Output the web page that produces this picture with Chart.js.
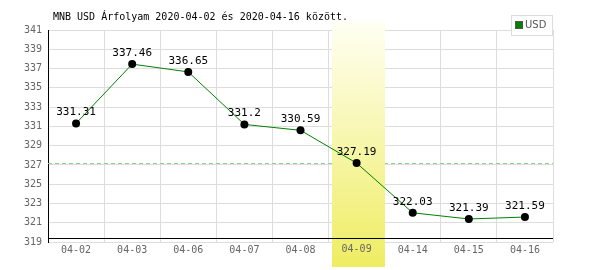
<!DOCTYPE html>
<html>
<head>
<meta charset="utf-8">
<script src="https://cdn.jsdelivr.net/npm/chart.js@4"></script>
<style>
    html, body { margin: 0; padding: 0; background: #ffffff; }
    #wrap { position: relative; width: 600px; height: 270px; }
</style>
</head>
<body>
<div id="wrap"><canvas id="rateChart" width="600" height="270"></canvas></div>
<script>

// ======================================================
// DATA
// ======================================================

const titleText = "MNB USD Árfolyam 2020-04-02 és 2020-04-16 között.";
const seriesName = "USD";

const dates = ["04-02", "04-03", "04-06", "04-07", "04-08", "04-09", "04-14", "04-15", "04-16"];
const rates = [331.31, 337.46, 336.65, 331.2, 330.59, 327.19, 322.03, 321.39, 321.59];

const yTicks = [319, 321, 323, 325, 327, 329, 331, 333, 335, 337, 339, 341];
const referenceLevel = [327.15];
const highlightDates = ["04-09"];

const MONO = "'DejaVu Sans Mono', monospace";

// ======================================================
// EXTRAS PLUGIN (band, reference line, labels, title, legend)
// ======================================================

const extrasPlugin = {

    id: "extras",

    beforeDatasetsDraw(chart) {

        const ctx = chart.ctx;
        const area = chart.chartArea;
        const x = chart.scales.x;
        const y = chart.scales.y;

        // dashed reference line
        ctx.save();
        ctx.strokeStyle = "#8fcf8f";
        ctx.lineWidth = 1;
        ctx.setLineDash([4, 3]);
        referenceLevel.forEach(v => {
            const py = Math.round(y.getPixelForValue(v)) + 0.5;
            ctx.beginPath();
            ctx.moveTo(area.left, py);
            ctx.lineTo(area.right, py);
            ctx.stroke();
        });
        ctx.restore();

        // highlighted day (band, then its tick label again on top)
        const half = (x.getPixelForValue(1) - x.getPixelForValue(0)) / 2;
        highlightDates.forEach(d => {
            const cx = x.getPixelForValue(dates.indexOf(d));
            const left = Math.round(cx - half + 3);
            const right = Math.round(cx + half);
            const grad = ctx.createLinearGradient(0, 21, 0, 267);
            grad.addColorStop(0, "#fffff4");
            grad.addColorStop(1, "#efed62");
            ctx.save();
            ctx.fillStyle = grad;
            ctx.fillRect(left, 21, right - left, 246);
            ctx.font = "10px " + MONO;
            ctx.fillStyle = "#666666";
            ctx.textAlign = "center";
            ctx.textBaseline = "top";
            ctx.fillText(d, cx, area.bottom + 2);
            ctx.restore();
        });

        // black baseline
        ctx.save();
        ctx.strokeStyle = "#000000";
        ctx.lineWidth = 1;
        ctx.beginPath();
        ctx.moveTo(area.left, area.bottom - 3.5);
        ctx.lineTo(area.right, area.bottom - 3.5);
        ctx.stroke();
        ctx.restore();

    },

    afterDatasetsDraw(chart) {

        const ctx = chart.ctx;
        const meta = chart.getDatasetMeta(0);

        // value labels
        ctx.save();
        ctx.font = "11px " + MONO;
        ctx.fillStyle = "#000000";
        ctx.textAlign = "center";
        ctx.textBaseline = "middle";
        meta.data.forEach((pt, i) => {
            ctx.fillText(String(rates[i]), pt.x, pt.y - 11);
        });
        ctx.restore();

        // title
        ctx.save();
        ctx.font = "10px " + MONO;
        ctx.fillStyle = "#000000";
        ctx.textAlign = "left";
        ctx.textBaseline = "middle";
        ctx.fillText(titleText, 53, 17);
        ctx.restore();

        // legend box
        ctx.save();
        ctx.fillStyle = "#ffffff";
        ctx.fillRect(511, 15, 41, 20);
        ctx.strokeStyle = "#dddddd";
        ctx.strokeRect(511.5, 15.5, 41, 20);
        ctx.fillStyle = "#008000";
        ctx.fillRect(516, 22, 6, 6);
        ctx.strokeStyle = "#555555";
        ctx.strokeRect(515.5, 21.5, 7, 7);
        ctx.font = "10px 'DejaVu Sans', sans-serif";
        ctx.fillStyle = "#555555";
        ctx.textAlign = "left";
        ctx.textBaseline = "middle";
        ctx.fillText(seriesName, 525, 25.5);
        ctx.restore();

    }

};

// ======================================================
// CHART
// ======================================================

function createRateChart() {

    const canvas = document.getElementById("rateChart");

    if (!canvas) return;

    new Chart(canvas, {

        type: "line",

        data: {

            labels: dates,

            datasets: [{

                label: seriesName,

                data: rates,

                borderColor: "#008000",

                borderWidth: 1,

                tension: 0,

                pointRadius: 4,

                pointHoverRadius: 4,

                pointBackgroundColor: "#000000",

                pointBorderWidth: 0

            }]

        },

        options: {

            responsive: false,

            animation: false,

            layout: {

                padding: { top: 30, right: 47, left: 0, bottom: 0 }

            },

            plugins: {

                legend: { display: false },

                tooltip: { enabled: false }

            },

            scales: {

                x: {

                    offset: true,

                    afterFit(scale) { scale.height = 28; },

                    grid: {

                        offset: true,

                        color: "#dddddd",

                        drawTicks: false

                    },

                    border: { display: false },

                    ticks: {

                        color: "#666666",

                        padding: 2,

                        font: { family: MONO, size: 10 }

                    }

                },

                y: {

                    min: yTicks[0],

                    max: yTicks[yTicks.length - 1],

                    afterFit(scale) { scale.width = 48; },

                    afterBuildTicks(scale) {

                        scale.ticks = yTicks.map(v => ({ value: v }));

                    },

                    grid: {

                        color: "#dddddd",

                        drawTicks: false

                    },

                    border: { color: "#000000", width: 1 },

                    ticks: {

                        color: "#666666",

                        padding: 6,

                        font: { family: MONO, size: 10 }

                    }

                }

            }

        },

        plugins: [extrasPlugin]

    });

}

createRateChart();

</script>
</body>
</html>
